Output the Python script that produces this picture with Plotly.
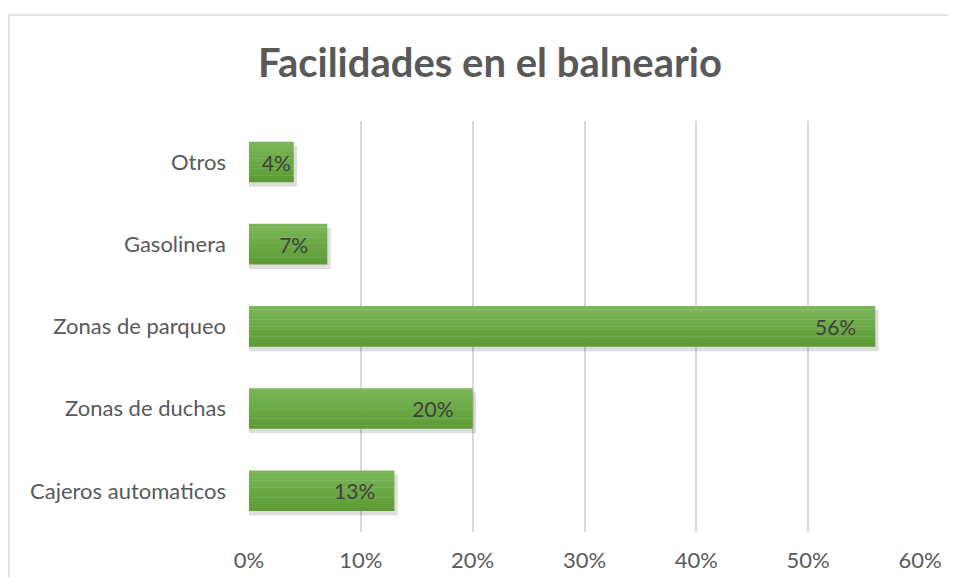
"""Facilidades en el balneario - horizontal bar chart."""

import plotly.graph_objects as go

categories = ["Cajeros automaticos", "Zonas de duchas", "Zonas de parqueo", "Gasolinera", "Otros"]
shares = [0.13, 0.20, 0.56, 0.07, 0.04]
tick_values = [0, 0.1, 0.2, 0.3, 0.4, 0.5, 0.6]
tick_labels = ["0%", "10%", "20%", "30%", "40%", "50%", "60%"]

FONT = "Lato"
PAD = "\u00a0\u00a0\u00a0"
BAR_W = 0.49
TOP_RGB = (122, 182, 88)
BOTTOM_RGB = (93, 156, 52)
N_SLICES = 12

fig = go.Figure()

# soft drop shadow, a bit lower and to the right of each bar
fig.add_trace(
    go.Bar(
        x=[v + 0.003 for v in shares],
        y=categories,
        orientation="h",
        width=0.5,
        offset=-0.3,
        marker={"color": "rgba(0,0,0,0.13)", "line": {"width": 0}},
        hoverinfo="skip",
        showlegend=False,
    )
)

# thin horizontal slices, light at the top and darker at the bottom
slice_w = BAR_W / N_SLICES
for i in range(N_SLICES):
    t = i / (N_SLICES - 1)
    rgb = [round(a + (b - a) * t) for a, b in zip(TOP_RGB, BOTTOM_RGB)]
    fig.add_trace(
        go.Bar(
            x=shares,
            y=categories,
            orientation="h",
            width=slice_w + 0.004,
            offset=BAR_W / 2 - (i + 1) * slice_w,
            marker={"color": f"rgb({rgb[0]},{rgb[1]},{rgb[2]})", "line": {"width": 0}},
            hoverinfo="skip",
            showlegend=False,
        )
    )

# labels on a transparent bar so they sit at the inside end
fig.add_trace(
    go.Bar(
        x=shares,
        y=categories,
        orientation="h",
        width=BAR_W,
        marker={"color": "rgba(0,0,0,0)", "line": {"width": 0}},
        text=[f"{v:.0%}" + (PAD if v >= 0.05 else "") for v in shares],
        textposition="inside",
        insidetextanchor="end",
        constraintext="none",
        textangle=0,
        textfont={"family": FONT, "size": 21, "color": "#404040"},
        showlegend=False,
    )
)

# chart frame: only the top and left edges fall inside the picture
frame = {"color": "#d9d9d9", "width": 1.5}

# the page adds an 8px body margin, so the figure is drawn 16px smaller
fig.update_layout(
    barmode="overlay",
    width=940,
    height=569,
    paper_bgcolor="white",
    plot_bgcolor="white",
    margin={"l": 241, "r": 28, "t": 113, "b": 45},
    title={
        "text": "<b>Facilidades en el balneario</b>",
        "font": {"family": FONT, "size": 40, "color": "#595959"},
        "x": 482 / 940,
        "xanchor": "center",
        "y": 1 - 55 / 569,
        "yanchor": "middle",
    },
    font={"family": FONT, "color": "#595959", "size": 22},
    shapes=[
        {"type": "line", "xref": "paper", "yref": "paper",
         "x0": -0.3577, "x1": 1.2, "y0": 1.2579, "y1": 1.2579, "line": frame},
        {"type": "line", "xref": "paper", "yref": "paper",
         "x0": -0.3577, "x1": -0.3577, "y0": -0.3, "y1": 1.2579, "line": frame},
    ],
)

fig.update_xaxes(
    range=[0, 0.6],
    tickvals=tick_values,
    ticktext=tick_labels,
    showgrid=True,
    gridcolor="#d9d9d9",
    gridwidth=1.5,
    zeroline=False,
    showline=False,
    automargin=False,
    ticklabelstandoff=13,
    tickfont={"family": FONT, "size": 22, "color": "#595959"},
)
fig.update_yaxes(
    showgrid=False,
    showline=False,
    automargin=False,
    ticklabelstandoff=22,
    tickfont={"family": FONT, "size": 22, "color": "#595959"},
)

fig.write_html("out.html")
